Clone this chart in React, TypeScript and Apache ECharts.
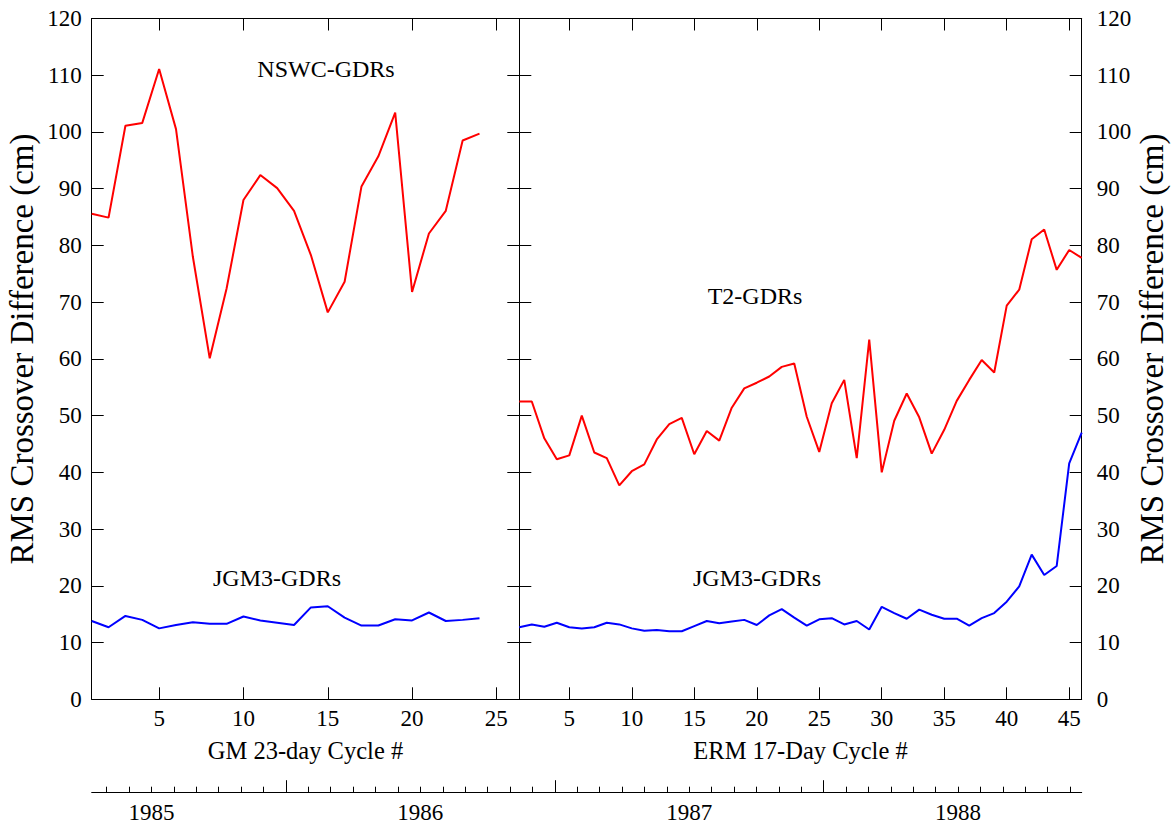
import React, { useEffect, useRef } from "react";
import * as echarts from "echarts";

// GM 23-day cycles (left panel)
const nswcValues = [85.6, 84.9, 101.1, 101.6, 111.1, 100.5, 78.0, 60.1, 72.4, 88.0, 92.4, 90.1, 86.1, 78.3, 68.2, 73.6, 90.4, 95.7, 103.4, 71.8, 82.1, 86.1, 98.5, 99.7];
const jgm3GmValues = [13.8, 12.7, 14.7, 14.0, 12.5, 13.1, 13.6, 13.3, 13.3, 14.6, 13.9, 13.5, 13.1, 16.2, 16.4, 14.4, 13.0, 13.0, 14.1, 13.9, 15.3, 13.8, 14.0, 14.3];

// ERM 17-day cycles (right panel)
const t2Values = [52.5, 52.5, 46.0, 42.3, 43.0, 50.0, 43.5, 42.5, 37.7, 40.2, 41.4, 45.8, 48.5, 49.6, 43.2, 47.3, 45.6, 51.4, 54.8, 55.8, 56.9, 58.6, 59.2, 49.8, 43.6, 52.2, 56.3, 42.5, 63.4, 40.0, 49.1, 53.9, 49.7, 43.3, 47.5, 52.6, 56.3, 59.8, 57.6, 69.4, 72.2, 81.1, 82.8, 75.7, 79.2, 77.8];
const jgm3ErmValues = [12.7, 13.2, 12.8, 13.5, 12.7, 12.5, 12.7, 13.5, 13.2, 12.5, 12.1, 12.2, 12.0, 12.0, 12.9, 13.8, 13.4, 13.7, 14.0, 13.1, 14.8, 15.9, 14.4, 13.0, 14.1, 14.3, 13.2, 13.8, 12.3, 16.3, 15.2, 14.2, 15.8, 14.9, 14.2, 14.2, 13.0, 14.3, 15.2, 17.2, 19.9, 25.5, 21.9, 23.5, 41.6, 47.0];

// axis ticks / ranges
const gmTicks = [5, 10, 15, 20, 25];
const ermTicks = [5, 10, 15, 20, 25, 30, 35, 40, 45];
const gmRange = [1, 26.36];
const ermRange = [1, 46];
const yTickStep = 10;
const yRange = [0, 120];

// time axis (months since Jan 1985)
const years = [1985, 1986, 1987, 1988];
const timeRange = [3.33, 47.52];

const FONT = "'Liberation Serif', 'Times New Roman', Times, serif";
const BLACK = "#000";
const TICK_FONT = 23;

function cycleAxis(gridIndex: number, position: string, range: number[], ticks: number[], showLabels: boolean) {
  return {
    type: "value",
    gridIndex,
    position,
    min: range[0],
    max: range[1],
    axisLine: { show: true, onZero: false, lineStyle: { color: BLACK, width: 1 } },
    axisTick: { show: true, inside: true, length: 12, customValues: ticks, lineStyle: { color: BLACK, width: 1 } },
    axisLabel: { show: showLabels, customValues: ticks, margin: 8, fontSize: TICK_FONT, fontFamily: FONT, color: BLACK },
    splitLine: { show: false },
  };
}

function valueYAxis(gridIndex: number, position: string, showLabels: boolean, margin: number) {
  return {
    type: "value",
    gridIndex,
    position,
    min: yRange[0],
    max: yRange[1],
    interval: yTickStep,
    axisLine: { show: true, onZero: false, lineStyle: { color: BLACK, width: 1 } },
    axisTick: { show: true, inside: true, length: 12, lineStyle: { color: BLACK, width: 1 } },
    axisLabel: { show: showLabels, margin, fontSize: TICK_FONT, fontFamily: FONT, color: BLACK },
    splitLine: { show: false },
  };
}

function txt(text: string, x: number, y: number, size: number, rotation = 0) {
  return {
    type: "text",
    x,
    y,
    rotation,
    style: {
      text,
      fontSize: size,
      fontFamily: FONT,
      fill: BLACK,
      align: "center",
      verticalAlign: "middle",
      textAlign: "center",
      textVerticalAlign: "middle",
    },
  };
}

export default function App() {
  const ref = useRef<HTMLDivElement>(null);

  useEffect(() => {
    if (!ref.current) return;
    const chart = echarts.init(ref.current, undefined, { renderer: "svg" });

    const monthTicks: number[] = [];
    for (let m = Math.ceil(timeRange[0]); m <= Math.floor(timeRange[1]); m++) monthTicks.push(m);
    const yearTicks = years.map((y) => (y - years[0]) * 12).filter((v) => v >= timeRange[0] && v <= timeRange[1]);
    const yearLabelPos = years.map((y) => (y - years[0]) * 12 + 6);

    const gmCycles = nswcValues.map((_, i) => i + 1);
    const ermCycles = t2Values.map((_, i) => i + 1);

    const option: any = {
      animation: false,
      backgroundColor: "#fff",
      textStyle: { fontFamily: FONT },
      grid: [
        { left: 91.7, top: 18.5, width: 427.6, height: 680.8, outerBoundsMode: "none" },
        { left: 519.3, top: 18.5, width: 562.4, height: 680.8, outerBoundsMode: "none" },
        { left: 91.7, top: 791.7, width: 990, height: 1, outerBoundsMode: "none" },
        { left: 91.7, top: 791.7, width: 990, height: 1, outerBoundsMode: "none" },
      ],
      xAxis: [
        cycleAxis(0, "bottom", gmRange, gmTicks, true),
        cycleAxis(0, "top", gmRange, gmTicks, false),
        cycleAxis(1, "bottom", ermRange, ermTicks, true),
        cycleAxis(1, "top", ermRange, ermTicks, false),
        {
          type: "value",
          gridIndex: 2,
          position: "bottom",
          min: timeRange[0],
          max: timeRange[1],
          axisLine: { show: true, onZero: false, lineStyle: { color: BLACK, width: 1 } },
          axisTick: { show: true, inside: true, length: 6, customValues: monthTicks, lineStyle: { color: BLACK, width: 1 } },
          axisLabel: { show: false },
          splitLine: { show: false },
        },
        {
          type: "value",
          gridIndex: 3,
          position: "bottom",
          min: timeRange[0],
          max: timeRange[1],
          axisLine: { show: false, onZero: false },
          axisTick: { show: true, inside: true, length: 12.5, customValues: yearTicks, lineStyle: { color: BLACK, width: 1 } },
          axisLabel: {
            show: true,
            customValues: yearLabelPos,
            margin: 8,
            fontSize: TICK_FONT,
            fontFamily: FONT,
            color: BLACK,
            formatter: (v: number) => String(years[0] + Math.floor(v / 12)),
          },
          splitLine: { show: false },
        },
      ],
      yAxis: [
        valueYAxis(0, "left", true, 10),
        valueYAxis(0, "right", false, 10),
        valueYAxis(1, "left", false, 10),
        valueYAxis(1, "right", true, 15),
        { type: "value", gridIndex: 2, min: 0, max: 1, show: false },
        { type: "value", gridIndex: 3, min: 0, max: 1, show: false },
      ],
      series: [
        {
          name: "NSWC-GDRs",
          type: "line",
          xAxisIndex: 0,
          yAxisIndex: 0,
          data: nswcValues.map((v, i) => [gmCycles[i], v]),
          showSymbol: false,
          lineStyle: { color: "#ff0000", width: 2 },
          itemStyle: { color: "#ff0000" },
        },
        {
          name: "JGM3-GDRs (GM)",
          type: "line",
          xAxisIndex: 0,
          yAxisIndex: 0,
          data: jgm3GmValues.map((v, i) => [gmCycles[i], v]),
          showSymbol: false,
          lineStyle: { color: "#0000ff", width: 2 },
          itemStyle: { color: "#0000ff" },
        },
        {
          name: "T2-GDRs",
          type: "line",
          xAxisIndex: 2,
          yAxisIndex: 2,
          data: t2Values.map((v, i) => [ermCycles[i], v]),
          showSymbol: false,
          lineStyle: { color: "#ff0000", width: 2 },
          itemStyle: { color: "#ff0000" },
        },
        {
          name: "JGM3-GDRs (ERM)",
          type: "line",
          xAxisIndex: 2,
          yAxisIndex: 2,
          data: jgm3ErmValues.map((v, i) => [ermCycles[i], v]),
          showSymbol: false,
          lineStyle: { color: "#0000ff", width: 2 },
          itemStyle: { color: "#0000ff" },
        },
      ],
      graphic: [
        txt("NSWC-GDRs", 326, 69, 24),
        txt("JGM3-GDRs", 277, 578, 24),
        txt("T2-GDRs", 755, 296, 24),
        txt("JGM3-GDRs", 757, 578, 24),
        txt("GM 23-day Cycle #", 305.5, 750, 24.5),
        txt("ERM 17-Day Cycle #", 800.5, 750, 24.5),
        txt("RMS Crossover Difference (cm)", 22, 349, 33, Math.PI / 2),
        txt("RMS Crossover Difference (cm)", 1152, 349, 33, Math.PI / 2),
      ],
    };

    chart.setOption(option);
    return () => chart.dispose();
  }, []);

  return (
    <div
      ref={ref}
      style={{ position: "fixed", left: 0, top: 0, width: 1171, height: 825, background: "#fff" }}
    />
  );
}
